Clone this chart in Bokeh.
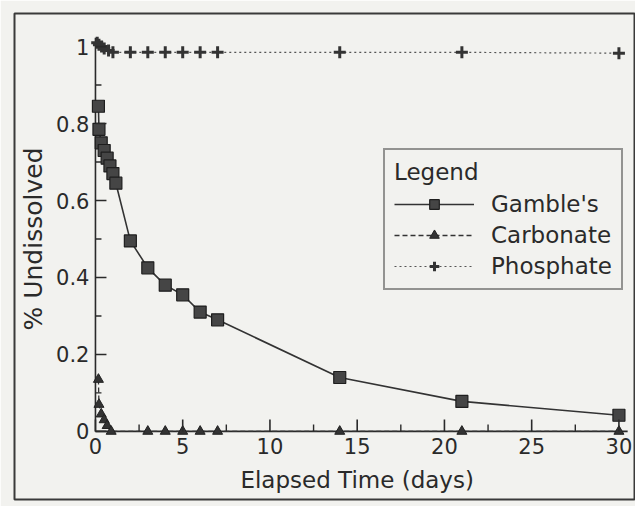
import math
from bokeh.plotting import figure
from bokeh.models import FixedTicker, Range1d, Legend, LegendItem, Label
from bokeh.embed import file_html
from bokeh.resources import INLINE

# ---- data ----
gamble_days = [0.17, 0.2, 0.33, 0.5, 0.67, 0.83, 1.0, 1.17, 2, 3, 4, 5, 6, 7, 14, 21, 30]
gamble_vals = [0.845, 0.785, 0.75, 0.73, 0.71, 0.69, 0.67, 0.645, 0.495, 0.425, 0.38, 0.355, 0.31, 0.29, 0.14, 0.078, 0.042]

carbonate_days = [0.17, 0.2, 0.33, 0.5, 0.67, 0.9, 3, 4, 5, 6, 7, 14, 21, 30]
carbonate_vals = [0.135, 0.07, 0.045, 0.03, 0.015, 0.0, 0.0, 0.0, 0.0, 0.0, 0.0, 0.0, 0.0, 0.0]

phosphate_days = [0.1, 0.2, 0.35, 0.5, 0.75, 1.0, 2, 3, 4, 5, 6, 7, 14, 21, 30]
phosphate_vals = [1.01, 1.005, 1.0, 0.995, 0.99, 0.985, 0.985, 0.985, 0.985, 0.985, 0.985, 0.985, 0.985, 0.985, 0.983]

x_ticks = [0, 5, 10, 15, 20, 25, 30]
x_minor = [2.5, 7.5, 12.5, 17.5, 22.5, 27.5]
y_ticks = [0, 0.2, 0.4, 0.6, 0.8, 1.0]
y_minor = [0.1, 0.3, 0.5, 0.7, 0.9]
y_tick_labels = {0: "0", 0.2: "0.2", 0.4: "0.4", 0.6: "0.6", 0.8: "0.8", 1.0: "1"}

x_title = "Elapsed Time (days)"
y_title = "% Undissolved"

# ---- layout ----
W, H = 635, 506
BL, BR, BT, BB = 14, 0, 13, 7
X_RANGE = (-4.64, 30.95)
Y_RANGE = (-0.177, 1.086)
X_AXIS_END = 30.5
Y_AXIS_TOP = 1.023
PX_PER_X = (W - BL - BR) / (X_RANGE[1] - X_RANGE[0])
PX_PER_Y = (H - BT - BB) / (Y_RANGE[1] - Y_RANGE[0])

BG = "#f2f2ef"
INK = "#2a2a2a"
FONT = "DejaVu Sans"

p = figure(width=W, height=H, output_backend="svg", toolbar_location=None,
           x_range=Range1d(*X_RANGE), y_range=Range1d(*Y_RANGE),
           min_border_left=BL, min_border_right=BR, min_border_top=BT, min_border_bottom=BB)
p.background_fill_color = BG
p.border_fill_color = BG
p.outline_line_color = "#3a3a3a"
p.outline_line_width = 2
p.grid.visible = False

# axes: tick labels from Bokeh, fixed at the data origin
xa = p.xaxis[0]
ya = p.yaxis[0]
xa.fixed_location = 0
ya.fixed_location = 0
xa.ticker = FixedTicker(ticks=x_ticks, minor_ticks=x_minor)
ya.ticker = FixedTicker(ticks=y_ticks, minor_ticks=y_minor)
ya.major_label_overrides = y_tick_labels
for ax in (xa, ya):
    ax.axis_line_color = None
    ax.major_tick_line_color = None
    ax.minor_tick_line_color = None
    ax.major_tick_out = 0
    ax.minor_tick_out = 0
    ax.major_tick_in = 0
    ax.minor_tick_in = 0
    ax.major_label_text_font = FONT
    ax.major_label_text_font_size = "21px"
    ax.major_label_text_color = INK
xa.major_label_standoff = 7
ya.major_label_standoff = 6

# axis lines limited to the data area
x0, y0 = x_ticks[0], y_ticks[0]
p.line([x0, X_AXIS_END], [y0, y0], line_color=INK, line_width=1.6)
p.line([x0, x0], [y0, Y_AXIS_TOP], line_color=INK, line_width=1.6)

# axis titles
x_mid = (x_ticks[0] + x_ticks[-1]) / 2
y_mid = (y_ticks[0] + y_ticks[-1]) / 2
p.add_layout(Label(x=x_mid, y=y0, y_offset=-49, text=x_title,
                   text_align="center", text_baseline="middle",
                   text_font=FONT, text_font_size="23px", text_color=INK))
p.add_layout(Label(x=x0, y=y_mid, x_offset=-62, text=y_title, angle=math.pi / 2,
                   text_align="center", text_baseline="middle",
                   text_font=FONT, text_font_size="25px", text_color=INK))

# series
g_line = p.line(gamble_days, gamble_vals, line_color="#333333", line_width=1.6)
g_pts = p.scatter(gamble_days, gamble_vals, marker="square", size=12,
                  fill_color="#454545", line_color="#1e1e1e", line_width=1.2)

c_line = p.line(carbonate_days, carbonate_vals, line_color="#333333", line_width=1.3,
                line_dash="5 3")
c_pts = p.scatter(carbonate_days, carbonate_vals, marker="triangle", size=10,
                  fill_color="#333333", line_color="#222222")

ph_line = p.line(phosphate_days, phosphate_vals, line_color="#555555", line_width=1.2,
                 line_dash="2 3")
ph_pts = p.scatter(phosphate_days, phosphate_vals, marker="cross", size=12,
                   line_color="#333333", line_width=3)

# inward tick marks drawn as dash markers (length in px = marker size)
def x_tick_marks(vals, length_px, width):
    p.scatter(vals, [y0 + (length_px / 2) / PX_PER_Y] * len(vals), marker="dash",
              size=length_px, angle=math.pi / 2, line_color=INK, line_width=width)

def y_tick_marks(vals, length_px, width):
    p.scatter([x0 + (length_px / 2) / PX_PER_X] * len(vals), vals, marker="dash",
              size=length_px, line_color=INK, line_width=width)

x_tick_marks(x_ticks, 12, 1.6)
x_tick_marks(x_minor, 7, 1.4)
y_tick_marks(y_ticks, 11, 1.6)
y_tick_marks(y_minor, 6, 1.4)

legend = Legend(items=[
    LegendItem(label="Gamble's", renderers=[g_line, g_pts]),
    LegendItem(label="Carbonate", renderers=[c_line, c_pts]),
    LegendItem(label="Phosphate", renderers=[ph_line, ph_pts]),
], location=(369, 209))
legend.title = "Legend"
legend.title_text_font = FONT
legend.title_text_font_size = "23px"
legend.title_text_font_style = "normal"
legend.title_text_color = INK
legend.title_standoff = 6
legend.label_text_font = FONT
legend.label_text_font_size = "23px"
legend.label_text_color = INK
legend.glyph_width = 80
legend.glyph_height = 24
legend.label_height = 24
legend.label_standoff = 17
legend.spacing = 5
legend.padding = 9
legend.margin = 0
legend.border_line_color = "#333333"
legend.border_line_width = 2
legend.background_fill_color = BG
legend.background_fill_alpha = 1.0
p.add_layout(legend)

open("out.html", "w").write(file_html(p, INLINE))
